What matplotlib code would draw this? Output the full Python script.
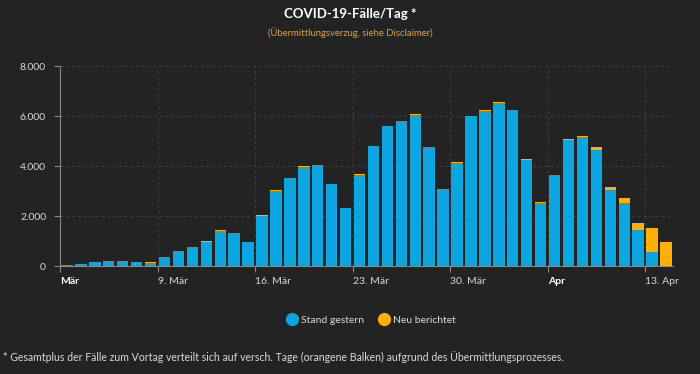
import matplotlib
matplotlib.use("Agg")
import matplotlib.pyplot as plt
from matplotlib.lines import Line2D
import numpy as np

days = ["2.3.", "3.3.", "4.3.", "5.3.", "6.3.", "7.3.", "8.3.",
        "9.3.", "10.3.", "11.3.", "12.3.", "13.3.", "14.3.", "15.3.",
        "16.3.", "17.3.", "18.3.", "19.3.", "20.3.", "21.3.", "22.3.",
        "23.3.", "24.3.", "25.3.", "26.3.", "27.3.", "28.3.", "29.3.",
        "30.3.", "31.3.", "1.4.", "2.4.", "3.4.", "4.4.", "5.4.",
        "6.4.", "7.4.", "8.4.", "9.4.", "10.4.", "11.4.", "12.4.",
        "13.4.", "14.4."]
stand_gestern = [50, 100, 170, 210, 210, 175, 140,
                 350, 610, 760, 980, 1420, 1320, 950,
                 2020, 3010, 3510, 3980, 4030, 3270, 2310,
                 3660, 4790, 5590, 5800, 6060, 4750, 3080,
                 4140, 6000, 6220, 6530, 6230, 4240, 2530,
                 3630, 5060, 5150, 4640, 3040, 2530, 1430,
                 570, 0]
neu_berichtet = [0, 0, 0, 0, 0, 5, 5,
                 15, 10, 15, 15, 15, 15, 10,
                 10, 15, 15, 15, 15, 10, 10,
                 15, 15, 10, 10, 15, 10, 10,
                 15, 10, 10, 15, 10, 50, 20,
                 20, 30, 50, 130, 130, 200, 290,
                 940, 950]
tick_labels = ["Mär", "9. Mär", "16. Mär", "23. Mär", "30. Mär", "Apr", "13. Apr"]
tick_bold = [True, False, False, False, False, True, False]
y_ticks = [0, 2000, 4000, 6000, 8000]
y_labels = ["0", "2.000", "4.000", "6.000", "8.000"]

BG = "#232323"
BLUE = "#0ba5e0"
ORANGE = "#ffb000"
TXT = "#d9d9d9"
plt.rcParams['font.family'] = ['Lato', 'DejaVu Sans']

fig = plt.figure(figsize=(7, 3.74), dpi=100, facecolor=BG)
ax = fig.add_axes([60/700, 1-266/374, 613/700, 200/374])
ax.set_facecolor(BG)

x = np.arange(len(days)) + 0.5
ax.bar(x, stand_gestern, width=0.82, color=BLUE, zorder=3)
ax.bar(x, neu_berichtet, width=0.82, bottom=stand_gestern, color=ORANGE, zorder=3)

ax.set_xlim(0, len(days))
ax.set_ylim(0, 8000)
ax.set_yticks(y_ticks)
ax.set_yticklabels(y_labels)
xt = np.arange(0, len(days), 7)
ax.set_xticks(xt)
ax.set_xticklabels(tick_labels)

ax.tick_params(axis='x', colors="#888888", labelcolor=TXT, labelsize=7.5, length=4, pad=4)
ax.tick_params(axis='y', colors="#888888", labelcolor=TXT, labelsize=7.5, length=4, pad=6)
for lab, b in zip(ax.get_xticklabels(), tick_bold):
    lab.set_color('white' if b else TXT)
    lab.set_fontweight('bold' if b else 'normal')
    lab.set_horizontalalignment('left')

for s in ['top', 'right']:
    ax.spines[s].set_visible(False)
for s in ['left', 'bottom']:
    ax.spines[s].set_color("#888888")
    ax.spines[s].set_linewidth(0.8)

ax.grid(True, color="#3e3e3e", linestyle=(0, (3, 3)), linewidth=0.7, zorder=0)

fig.text(0.5, 1-14/374, "COVID-19-Fälle/Tag *", ha='center', va='center',
         color='white', fontsize=9.5, fontweight='bold')
fig.text(0.5, 1-33/374, "(Übermittlungsverzug, siehe Disclaimer)", ha='center', va='center',
         color="#f0a020", fontsize=6.8)

handles = [Line2D([], [], marker='o', linestyle='', markersize=8.5, color=BLUE),
           Line2D([], [], marker='o', linestyle='', markersize=8.5, color=ORANGE)]
leg = fig.legend(handles, ["Stand gestern", "Neu berichtet"], loc='center',
                 bbox_to_anchor=(371/700, 1-320/374), ncol=2, frameon=False,
                 fontsize=7.5, handletextpad=0.3, columnspacing=1.3, handlelength=1.2)
for t in leg.get_texts():
    t.set_color(TXT)

fig.text(3/700, 1-357/374,
         "* Gesamtplus der Fälle zum Vortag verteilt sich auf versch. Tage (orangene Balken) aufgrund des Übermittlungsprozesses.",
         ha='left', va='center', color=TXT, fontsize=7.6)

fig.savefig("out.png", dpi=100, facecolor=BG)
